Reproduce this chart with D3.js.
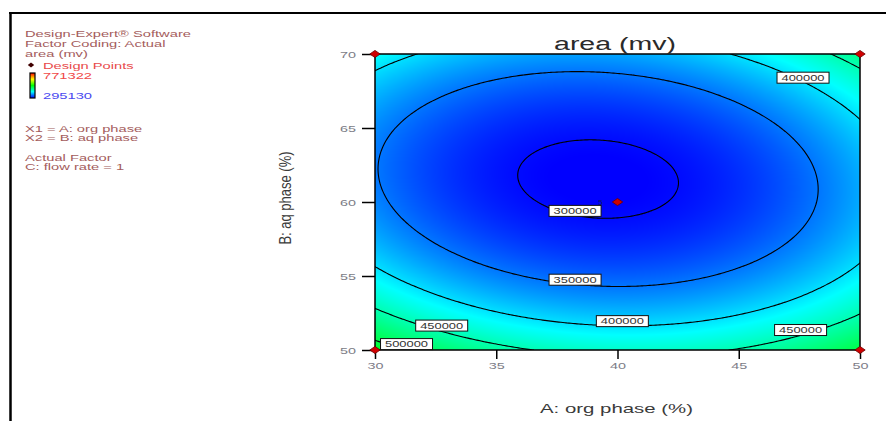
<!DOCTYPE html>
<html>
<head>
<meta charset="utf-8">
<script src="https://cdn.jsdelivr.net/npm/d3@7"></script>
<style>
  html, body { margin: 0; padding: 0; background: #fff; }
  svg { display: block; font-family: "Liberation Sans", Arial, sans-serif; }
</style>
</head>
<body>
<svg id="chart" width="886" height="421"></svg>
<script>
// Response surface for area (mv): A = org phase (%), B = aq phase (%), C: flow rate held at 1
const modelTerms = ["Intercept", "A", "B", "AB", "A^2", "B^2"];
const modelCoefs = [5970233, -65769.2, -142611.1, 168, 707, 1105];

// Observed response range (colour legend)
const colorRange = [295130, 771322];

// Contour levels
const contourLevels = [300000, 350000, 400000, 450000, 500000];

// Where each contour value is written (A, B in actual units)
const labelLevels = [300000, 350000, 400000, 400000, 450000, 450000, 500000];
const labelA = [38.25, 38.25, 40.2, 47.65, 32.75, 47.55, 31.3];
const labelB = [59.4, 54.75, 51.95, 68.4, 51.65, 51.35, 50.4];

// Design points in the A-B plane, with replicate count at the centre point
const designA = [30, 30, 50, 50, 40];
const designB = [50, 70, 50, 70, 60];
const designReps = [1, 1, 1, 1, 5];

// Axis ticks
const xTicks = [30, 35, 40, 45, 50];
const yTicks = [50, 55, 60, 65, 70];

// Side panel text
const headerLines = ["Design-Expert\u00AE Software", "Factor Coding: Actual", "area (mv)"];
const factorLines = ["X1 = A: org phase", "X2 = B: aq phase"];
const actualLines = ["Actual Factor", "C: flow rate = 1"];

function area(a, b) {
  const t = [1, a, b, a * b, a * a, b * b];
  return d3.sum(t, (v, i) => v * modelCoefs[i]);
}

const SX = 1.5; // horizontal text stretch
const svg = d3.select("#chart");

const plot = { left: 375, right: 860, top: 54, bottom: 350 };
const x = d3.scaleLinear().domain([30, 50]).range([plot.left, plot.right]);
const y = d3.scaleLinear().domain([50, 70]).range([plot.bottom, plot.top]);

const color = d3.scaleLinear()
  .domain(d3.range(5).map(i => colorRange[0] + i * (colorRange[1] - colorRange[0]) / 4))
  .range(["#0000ff", "#00ffff", "#00ff00", "#ffff00", "#ff0000"])
  .clamp(true);

// Outer frame lines
svg.append("line").attr("x1", 10.5).attr("x2", 10.5).attr("y1", 12).attr("y2", 421)
  .attr("stroke", "#000").attr("stroke-width", 2.5);
svg.append("line").attr("x1", 9).attr("x2", 886).attr("y1", 13).attr("y2", 13)
  .attr("stroke", "#000").attr("stroke-width", 2);

// Shaded surface
const W = Math.round(plot.right - plot.left), H = Math.round(plot.bottom - plot.top);
const canvas = document.createElement("canvas");
canvas.width = W; canvas.height = H;
const ctx = canvas.getContext("2d");
const img = ctx.createImageData(W, H);
for (let j = 0; j < H; j++) {
  const b = y.invert(plot.top + j + 0.5);
  for (let i = 0; i < W; i++) {
    const a = x.invert(plot.left + i + 0.5);
    const c = d3.rgb(color(area(a, b)));
    const k = 4 * (j * W + i);
    img.data[k] = c.r; img.data[k + 1] = c.g; img.data[k + 2] = c.b; img.data[k + 3] = 255;
  }
}
ctx.putImageData(img, 0, 0);

svg.append("defs").append("clipPath").attr("id", "plotClip")
  .append("rect").attr("x", plot.left).attr("y", plot.top).attr("width", W).attr("height", H);

svg.append("image")
  .attr("x", plot.left).attr("y", plot.top).attr("width", W).attr("height", H)
  .attr("preserveAspectRatio", "none")
  .attr("href", canvas.toDataURL());

// Contour lines
const n = 241;
const values = new Array(n * n);
for (let j = 0; j < n; j++) {
  const b = 70 - 20 * j / (n - 1);
  for (let i = 0; i < n; i++) values[j * n + i] = area(30 + 20 * i / (n - 1), b);
}
const contours = d3.contours().size([n, n]).thresholds(contourLevels)(values);
const proj = d3.geoTransform({
  point(px, py) {
    this.stream.point(x(30 + 20 * (px - 0.5) / (n - 1)), y(70 - 20 * (py - 0.5) / (n - 1)));
  }
});
svg.append("g").attr("clip-path", "url(#plotClip)")
  .selectAll("path").data(contours).join("path")
  .attr("d", d3.geoPath(proj))
  .attr("fill", "none").attr("stroke", "#000").attr("stroke-width", 1.1);

// Plot frame
svg.append("rect").attr("x", plot.left).attr("y", plot.top).attr("width", W).attr("height", H)
  .attr("fill", "none").attr("stroke", "#000").attr("stroke-width", 1.5);

// Contour value labels
const lbl = svg.append("g").selectAll("g").data(labelLevels).join("g")
  .attr("transform", (d, i) => `translate(${x(labelA[i])},${y(labelB[i])})`);
lbl.append("rect").attr("x", -26).attr("y", -5.5).attr("width", 52).attr("height", 11)
  .attr("fill", "#fff").attr("stroke", "#111").attr("stroke-width", 1);
lbl.append("text").attr("transform", `scale(${SX},1)`)
  .attr("text-anchor", "middle").attr("dy", "0.35em")
  .attr("font-size", 8.6).attr("fill", "#333")
  .text(d => d3.format("d")(d));

// Axes
const xAxis = svg.append("g").attr("transform", `translate(0,${plot.bottom})`)
  .call(d3.axisBottom(x).tickValues(xTicks).tickSize(9).tickPadding(3.5).tickSizeOuter(0));
const yAxis = svg.append("g").attr("transform", `translate(${plot.left},0)`)
  .call(d3.axisLeft(y).tickValues(yTicks).tickSize(13).tickPadding(6).tickSizeOuter(0));
[xAxis, yAxis].forEach(g => {
  g.select(".domain").remove();
  g.selectAll(".tick line").attr("stroke", "#000").attr("stroke-width", 1.5);
  g.selectAll(".tick text").attr("fill", "#7c7c86").attr("font-size", 9.6)
    .attr("font-family", "'Liberation Sans', Arial, sans-serif");
});
xAxis.selectAll(".tick text").attr("transform", `scale(${SX},1)`);
yAxis.selectAll(".tick text").attr("x", -19 / SX).attr("transform", `scale(${SX},1)`);

// Design points
const marker = "M0,-3.6L5.2,0L0,3.6L-5.2,0Z";
svg.append("g").selectAll("path").data(designA).join("path")
  .attr("transform", (d, i) => `translate(${x(d)},${y(designB[i])})`)
  .attr("d", marker).attr("fill", "#d00000").attr("stroke", "#6a0000").attr("stroke-width", 0.8);
svg.append("g").selectAll("text").data(designReps.filter(r => r > 1)).join("text")
  .attr("x", (d) => x(designA[designReps.indexOf(d)]) - 17)
  .attr("y", (d) => y(designB[designReps.indexOf(d)]) + 2.5)
  .attr("font-size", 8).attr("fill", "#0a1a66").attr("text-anchor", "middle")
  .text(d => d);

// Titles
function stretched(sel, tx, ty, extra) {
  return sel.attr("transform", `translate(${tx},${ty}) scale(${SX},1)` + (extra || ""));
}
stretched(svg.append("text"), 615, 50)
  .attr("text-anchor", "middle").attr("font-size", 19).attr("fill", "#2a2a2a").text("area (mv)");
stretched(svg.append("text"), 616.5, 412.5)
  .attr("text-anchor", "middle").attr("font-size", 13.6).attr("fill", "#3a3a3a").text("A: org phase (%)");
svg.append("text")
  .attr("transform", "translate(291,198) scale(1.3,1) rotate(-90)")
  .attr("text-anchor", "middle").attr("font-size", 13).attr("fill", "#3a3a3a").text("B: aq phase (%)");

// Side panel
const panelColor = "#a45c5c";
headerLines.forEach((t, i) => {
  stretched(svg.append("text"), 25, 37 + i * 9.8)
    .attr("font-size", 9.8).attr("fill", panelColor).text(t);
});
svg.append("path").attr("transform", "translate(31,65)")
  .attr("d", "M0,-2.6L3.2,0L0,2.6L-3.2,0Z").attr("fill", "#400000");
stretched(svg.append("text"), 43, 68.5).attr("font-size", 9.8).attr("fill", "#e84a4a").text("Design Points");
stretched(svg.append("text"), 43, 79).attr("font-size", 9.8).attr("fill", "#f04848").text(d3.format("d")(colorRange[1]));
stretched(svg.append("text"), 43, 99).attr("font-size", 9.8).attr("fill", "#4a4af0").text(d3.format("d")(colorRange[0]));

const grad = svg.select("defs").append("linearGradient").attr("id", "legendGrad")
  .attr("x1", 0).attr("x2", 0).attr("y1", 0).attr("y2", 1);
d3.range(5).forEach(i => {
  grad.append("stop").attr("offset", i / 4)
    .attr("stop-color", color(colorRange[1] - i * (colorRange[1] - colorRange[0]) / 4));
});
svg.append("rect").attr("x", 30).attr("y", 73).attr("width", 5).attr("height", 25)
  .attr("fill", "url(#legendGrad)").attr("stroke", "#000").attr("stroke-width", 1.2);

factorLines.forEach((t, i) => {
  stretched(svg.append("text"), 25, 131.5 + i * 9.5)
    .attr("font-size", 9.8).attr("fill", panelColor).text(t);
});
actualLines.forEach((t, i) => {
  stretched(svg.append("text"), 25, 160.5 + i * 9.5)
    .attr("font-size", 9.8).attr("fill", panelColor).text(t);
});
</script>
</body>
</html>
